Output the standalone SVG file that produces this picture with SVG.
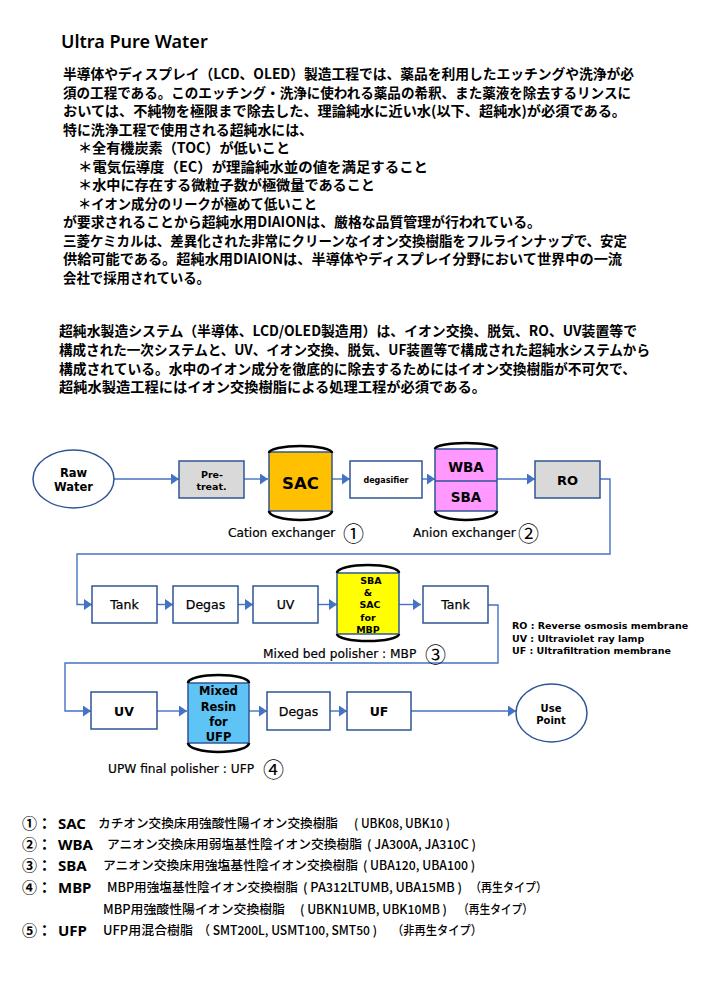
<svg xmlns="http://www.w3.org/2000/svg" width="705" height="997" viewBox="0 0 705 997">
<style>
.jp{font-family:"Noto Sans CJK JP","Noto Sans",sans-serif;font-weight:bold;font-size:14px;fill:#000}
.ttl{font-family:"Noto Sans","Open Sans",sans-serif;font-weight:600;font-size:18px;fill:#000}
.box{stroke:#2F5597;stroke-width:1.5}
.w{fill:#fff}
.g{fill:#D9D9D9}
.arc{fill:none;stroke:#000;stroke-width:2.6}
.lbl{font-family:"DejaVu Sans",Verdana,sans-serif;fill:#000;text-anchor:middle}
.b{font-weight:bold}
.cap{font-family:"DejaVu Sans",Verdana,sans-serif;font-size:12.2px;fill:#000;stroke:#000;stroke-width:0.2}
.cn{font-family:"Noto Sans CJK JP",sans-serif;font-size:21px;fill:#000}
.lg{font-family:"DejaVu Sans",Verdana,sans-serif;font-size:9.5px;font-weight:bold;fill:#000}
.con{fill:none;stroke:#4472C4;stroke-width:1.4}
.ln{font-family:"Noto Sans CJK JP",sans-serif;font-size:15px;font-weight:bold;fill:#000}
.lk{font-family:"Noto Sans","Liberation Sans",sans-serif;font-size:15px;font-weight:bold;fill:#000}
.ld{font-family:"Noto Sans CJK JP",sans-serif;font-size:12.5px;font-weight:500;fill:#000}
.med{stroke:#000;stroke-width:0.25}
</style>
<defs>
<marker id="ah" viewBox="0 0 8 11" refX="8" refY="5.5" markerWidth="8" markerHeight="11" markerUnits="userSpaceOnUse" orient="auto">
<path d="M0,0 L8,5.5 L0,11 z" fill="#4472C4"/>
</marker>
</defs>
<rect width="705" height="997" fill="#fff"/>

<g id="header">
<text class="ttl" x="61" y="48">Ultra Pure Water</text>
<text class="jp" x="63" y="79" textLength="571" lengthAdjust="spacingAndGlyphs">半導体やディスプレイ（LCD、OLED）製造工程では、薬品を利用したエッチングや洗浄が必</text>
<text class="jp" x="63" y="97.5" textLength="568" lengthAdjust="spacingAndGlyphs">須の工程である。このエッチング・洗浄に使われる薬品の希釈、また薬液を除去するリンスに</text>
<text class="jp" x="63" y="116" textLength="563" lengthAdjust="spacingAndGlyphs">おいては、不純物を極限まで除去した、理論純水に近い水(以下、超純水)が必須である。</text>
<text class="jp" x="63" y="134.5" textLength="250" lengthAdjust="spacingAndGlyphs">特に洗浄工程で使用される超純水には、</text>
<text class="jp" x="78" y="153" textLength="212" lengthAdjust="spacingAndGlyphs">＊全有機炭素（TOC）が低いこと</text>
<text class="jp" x="78" y="171.5" textLength="350" lengthAdjust="spacingAndGlyphs">＊電気伝導度（EC）が理論純水並の値を満足すること</text>
<text class="jp" x="78" y="190" textLength="297" lengthAdjust="spacingAndGlyphs">＊水中に存在する微粒子数が極微量であること</text>
<text class="jp" x="78" y="208.5" textLength="239" lengthAdjust="spacingAndGlyphs">＊イオン成分のリークが極めて低いこと</text>
<text class="jp" x="63" y="227" textLength="478" lengthAdjust="spacingAndGlyphs">が要求されることから超純水用DIAIONは、厳格な品質管理が行われている。</text>
<text class="jp" x="63" y="245.5" textLength="564" lengthAdjust="spacingAndGlyphs">三菱ケミカルは、差異化された非常にクリーンなイオン交換樹脂をフルラインナップで、安定</text>
<text class="jp" x="63" y="264" textLength="559" lengthAdjust="spacingAndGlyphs">供給可能である。超純水用DIAIONは、半導体やディスプレイ分野において世界中の一流</text>
<text class="jp" x="63" y="282.5" textLength="147" lengthAdjust="spacingAndGlyphs">会社で採用されている。</text>
</g>

<g id="intro">
<text class="jp" x="59" y="336" textLength="578" lengthAdjust="spacingAndGlyphs">超純水製造システム（半導体、LCD/OLED製造用）は、イオン交換、脱気、RO、UV装置等で</text>
<text class="jp" x="59" y="355" textLength="591" lengthAdjust="spacingAndGlyphs">構成された一次システムと、UV、イオン交換、脱気、UF装置等で構成された超純水システムから</text>
<text class="jp" x="59" y="373.5" textLength="577" lengthAdjust="spacingAndGlyphs">構成されている。水中のイオン成分を徹底的に除去するためにはイオン交換樹脂が不可欠で、</text>
<text class="jp" x="59" y="392" textLength="427" lengthAdjust="spacingAndGlyphs">超純水製造工程にはイオン交換樹脂による処理工程が必須である。</text>
</g>

<g id="connectors">
<path class="con" d="M114,479 H179" marker-end="url(#ah)"/>
<path class="con" d="M244,479 H268" marker-end="url(#ah)"/>
<path class="con" d="M332,479 H350" marker-end="url(#ah)"/>
<path class="con" d="M422,479 H435" marker-end="url(#ah)"/>
<path class="con" d="M497,479 H535" marker-end="url(#ah)"/>
<path class="con" d="M600,479 H610 V554 H77 V604.5 H92" marker-end="url(#ah)"/>
<path class="con" d="M157,604.5 H173" marker-end="url(#ah)"/>
<path class="con" d="M238,604.5 H253" marker-end="url(#ah)"/>
<path class="con" d="M318,604.5 H337" marker-end="url(#ah)"/>
<path class="con" d="M399,604.5 H421" marker-end="url(#ah)"/>
<path class="con" d="M488,605 H498 V663 H65 V711 H91" marker-end="url(#ah)"/>
<path class="con" d="M157,711 H187" marker-end="url(#ah)"/>
<path class="con" d="M249,711 H267" marker-end="url(#ah)"/>
<path class="con" d="M330,711 H347" marker-end="url(#ah)"/>
<path class="con" d="M411,711 H516" marker-end="url(#ah)"/>
</g>

<g id="raw-water">
<ellipse class="box w" cx="73.5" cy="479" rx="40.5" ry="29"/>
<text class="lbl b" x="73.5" y="477" font-size="11.5">Raw</text>
<text class="lbl b" x="73.5" y="491" font-size="11.5">Water</text>
</g>
<g id="pretreat">
<rect class="box g" x="179" y="461" width="65" height="37"/>
<text class="lbl b" x="212" y="478" font-size="9.5">Pre-</text>
<text class="lbl b" x="211.5" y="490" font-size="9.5">treat.</text>
</g>
<g id="sac">
<rect class="box" x="269" y="452" width="63" height="59" fill="#FFC000"/>
<path class="arc" d="M269,453 A31.5,7 0 0 1 332,453"/>
<path class="arc" d="M269,511 A31.5,9 0 0 0 332,511"/>
<text class="lbl b" x="300.5" y="489" font-size="16.5">SAC</text>
<text class="cap" x="228" y="537">Cation exchanger</text>
<text class="cn" x="343" y="541">①</text>
</g>
<g id="degasifier">
<rect class="box w" x="350" y="461" width="72" height="37"/>
<text class="lbl b" x="386" y="483" font-size="8">degasifier</text>
</g>
<g id="anion">
<rect class="box" x="435" y="449" width="62" height="62" fill="#FF99FF"/>
<line x1="435" y1="481" x2="497" y2="481" stroke="#2F5597" stroke-width="1.3"/>
<path class="arc" d="M435,449 A31,6 0 0 1 497,449"/>
<path class="arc" d="M435,511 A31,9 0 0 0 497,511"/>
<text class="lbl b" x="466" y="472" font-size="13.5">WBA</text>
<text class="lbl b" x="466" y="502" font-size="13.5">SBA</text>
<text class="cap" x="413" y="537">Anion exchanger</text>
<text class="cn" x="518" y="541">②</text>
</g>
<g id="ro">
<rect class="box g" x="535" y="461" width="65" height="37"/>
<text class="lbl b" x="567.5" y="485" font-size="13">RO</text>
</g>

<g id="tank1">
<rect class="box w" x="92" y="586" width="65" height="37"/>
<text class="lbl med" x="124.5" y="609" font-size="12.5">Tank</text>
</g>
<g id="degas2">
<rect class="box w" x="173" y="586" width="65" height="37"/>
<text class="lbl med" x="205.5" y="609" font-size="12.5">Degas</text>
</g>
<g id="uv1">
<rect class="box w" x="253" y="586" width="65" height="37"/>
<text class="lbl med" x="285.5" y="609" font-size="12.5">UV</text>
</g>
<g id="mbp">
<rect class="box" x="337" y="573" width="62" height="61" fill="#FFFF00"/>
<path class="arc" d="M337,573 A31,8 0 0 1 399,573"/>
<path class="arc" d="M337,634 A31,7 0 0 0 399,634"/>
<text class="lbl b" x="371" y="583.5" font-size="9.5">SBA</text>
<text class="lbl b" x="368" y="596" font-size="9.5">&amp;</text>
<text class="lbl b" x="370" y="608" font-size="9.5">SAC</text>
<text class="lbl b" x="368" y="620.5" font-size="9.5">for</text>
<text class="lbl b" x="368" y="633" font-size="9.5">MBP</text>
<text class="cap" x="263" y="658">Mixed bed polisher : MBP</text>
<text class="cn" x="425" y="662">③</text>
</g>
<g id="tank2">
<rect class="box w" x="423" y="586" width="65" height="37"/>
<text class="lbl med" x="455.5" y="609" font-size="12.5">Tank</text>
</g>
<g id="legend-abbr">
<text class="lg" x="512" y="629">RO : Reverse osmosis membrane</text>
<text class="lg" x="512" y="642">UV : Ultraviolet ray lamp</text>
<text class="lg" x="512" y="654">UF : Ultrafiltration membrane</text>
</g>

<g id="uv2">
<rect class="box w" x="91" y="692" width="66" height="37"/>
<text class="lbl b" x="124" y="715.5" font-size="12.5">UV</text>
</g>
<g id="ufp">
<rect class="box" x="188" y="683" width="61" height="60" fill="#5EC3F5"/>
<path class="arc" d="M188,683 A30.5,8 0 0 1 249,683"/>
<path class="arc" d="M188,743 A30.5,9 0 0 0 249,743"/>
<text class="lbl b" x="218.5" y="695" font-size="11.5">Mixed</text>
<text class="lbl b" x="218.5" y="710.5" font-size="11.5">Resin</text>
<text class="lbl b" x="218.5" y="725.5" font-size="11.5">for</text>
<text class="lbl b" x="218.5" y="741" font-size="11.5">UFP</text>
<text class="cap" x="108" y="773">UPW final polisher : UFP</text>
<text class="cn" x="263" y="777">④</text>
</g>
<g id="degas3">
<rect class="box w" x="267" y="692" width="63" height="38"/>
<text class="lbl med" x="298.5" y="716" font-size="12.5">Degas</text>
</g>
<g id="uf">
<rect class="box w" x="347" y="692" width="64" height="38"/>
<text class="lbl b" x="379" y="716" font-size="12.5">UF</text>
</g>
<g id="use-point">
<ellipse class="box w" cx="551.5" cy="713" rx="35.5" ry="29"/>
<text class="lbl b" x="551" y="711.5" font-size="10">Use</text>
<text class="lbl b" x="551" y="723.5" font-size="10">Point</text>
</g>

<g id="resin-list">
<text class="ln" x="22" y="829">①</text><text class="ln" x="37" y="829">：</text><text class="lk" x="58" y="829">SAC</text>
<text class="ld" x="98" y="828" textLength="240" lengthAdjust="spacingAndGlyphs">カチオン交換床用強酸性陽イオン交換樹脂</text>
<text class="ld" x="354" y="828" textLength="96" lengthAdjust="spacingAndGlyphs">( UBK08, UBK10 )</text>

<text class="ln" x="22" y="850">②</text><text class="ln" x="37" y="850">：</text><text class="lk" x="58" y="850">WBA</text>
<text class="ld" x="107" y="849" textLength="255" lengthAdjust="spacingAndGlyphs">アニオン交換床用弱塩基性陰イオン交換樹脂</text>
<text class="ld" x="367" y="849" textLength="109" lengthAdjust="spacingAndGlyphs">( JA300A,  JA310C )</text>

<text class="ln" x="22" y="871">③</text><text class="ln" x="37" y="871">：</text><text class="lk" x="58" y="871">SBA</text>
<text class="ld" x="103" y="870" textLength="255" lengthAdjust="spacingAndGlyphs">アニオン交換床用強塩基性陰イオン交換樹脂</text>
<text class="ld" x="363" y="870" textLength="112" lengthAdjust="spacingAndGlyphs">( UBA120, UBA100 )</text>

<text class="ln" x="22" y="893">④</text><text class="ln" x="37" y="893">：</text><text class="lk" x="58" y="893">MBP</text>
<text class="ld" x="107" y="892" textLength="191" lengthAdjust="spacingAndGlyphs">MBP用強塩基性陰イオン交換樹脂</text>
<text class="ld" x="303" y="892" textLength="159" lengthAdjust="spacingAndGlyphs">( PA312LTUMB, UBA15MB )</text>
<text class="ld" x="470" y="892" textLength="77" lengthAdjust="spacingAndGlyphs">（再生タイプ）</text>

<text class="ld" x="103" y="914" textLength="182" lengthAdjust="spacingAndGlyphs">MBP用強酸性陽イオン交換樹脂</text>
<text class="ld" x="300" y="914" textLength="147" lengthAdjust="spacingAndGlyphs">( UBKN1UMB, UBK10MB )</text>
<text class="ld" x="458" y="914" textLength="75" lengthAdjust="spacingAndGlyphs">（再生タイプ）</text>

<text class="ln" x="22" y="936">⑤</text><text class="ln" x="37" y="936">：</text><text class="lk" x="58" y="936">UFP</text>
<text class="ld" x="103" y="935" textLength="90" lengthAdjust="spacingAndGlyphs">UFP用混合樹脂</text>
<text class="ld" x="198" y="935" textLength="179" lengthAdjust="spacingAndGlyphs">（ SMT200L, USMT100, SMT50 )</text>
<text class="ld" x="392" y="935" textLength="90" lengthAdjust="spacingAndGlyphs">（非再生タイプ）</text>
</g>
</svg>
